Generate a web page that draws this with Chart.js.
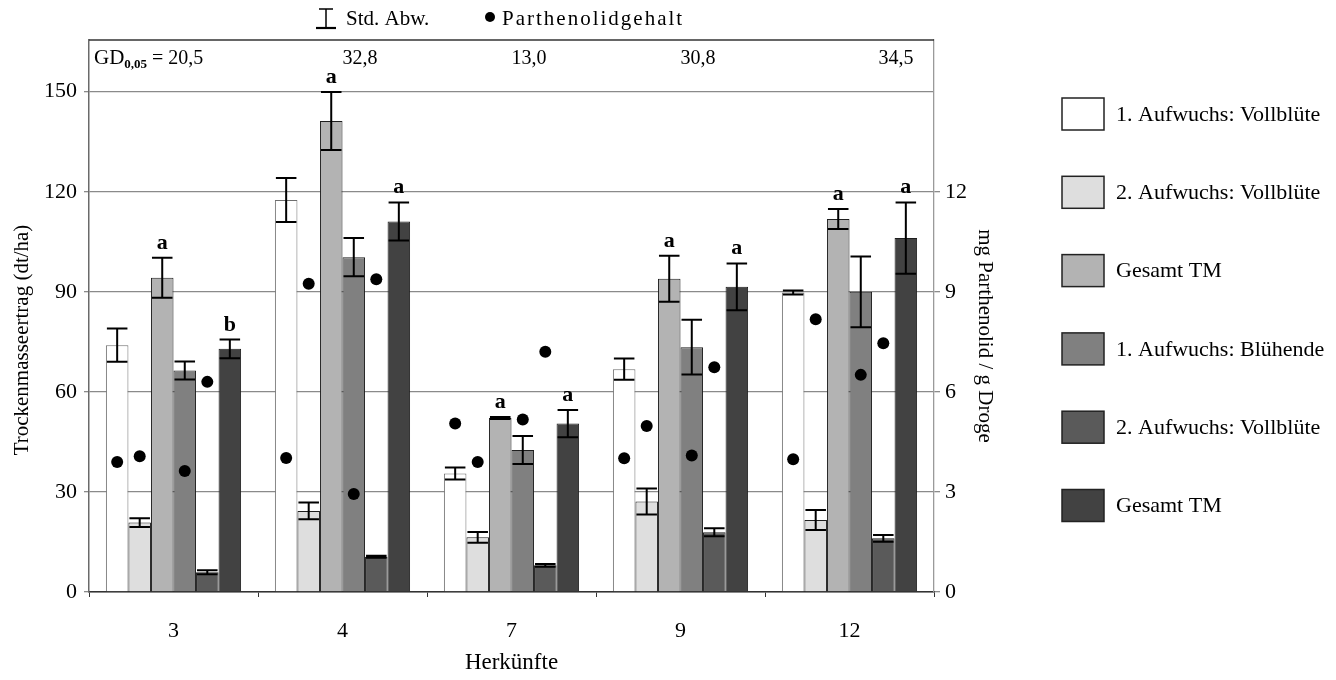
<!DOCTYPE html>
<html>
<head>
<meta charset="utf-8">
<script src="https://cdn.jsdelivr.net/npm/chart.js@4.4.1/dist/chart.umd.min.js"></script>
<style>
  html, body { margin: 0; padding: 0; background: #fff; }
  #wrap { width: 1336px; height: 680px; position: relative; }
</style>
</head>
<body>
<div id="wrap"><canvas id="c" width="1336" height="680"></canvas></div>
<script>
// Herkünfte (origins) on the x axis
const herkuenfte = ['3', '4', '7', '9', '12'];

// Legend names of the six bar series
const seriesNames = ['1. Aufwuchs: Vollblüte', '2. Aufwuchs: Vollblüte', 'Gesamt TM',
                     '1. Aufwuchs: Blühende', '2. Aufwuchs: Vollblüte', 'Gesamt TM'];

// Trockenmasseertrag (dt/ha), harvest at full bloom
const aufwuchs1Voll   = [74.0, 117.5, 35.5, 66.8, 89.8];
const aufwuchs2Voll   = [20.8, 24.3, 16.4, 27.1, 21.6];
const gesamtVoll      = [94.2, 141.2, 52.2, 93.9, 111.8];
// Trockenmasseertrag (dt/ha), first cut at begin of flowering
const aufwuchs1Blueh  = [66.4, 100.4, 42.6, 73.4, 90.0];
const aufwuchs2Folge  = [5.9, 10.6, 8.0, 17.9, 16.1];
const gesamtBlueh     = [72.9, 111.1, 50.5, 91.5, 106.1];

// Standardabweichungen
const sdAufwuchs1Voll  = [5.0, 6.6, 1.8, 3.2, 0.6];
const sdAufwuchs2Voll  = [1.3, 2.5, 1.6, 3.9, 3.0];
const sdGesamtVoll     = [6.0, 8.7, 0.3, 6.9, 3.0];
const sdAufwuchs1Blueh = [2.7, 5.7, 4.2, 8.2, 10.6];
const sdAufwuchs2Folge = [0.6, 0.3, 0.4, 1.2, 1.0];
const sdGesamtBlueh    = [2.8, 5.7, 4.1, 7.0, 10.7];

// Parthenolidgehalt (mg Parthenolid / g Droge)
const parthAufwuchs1Voll  = [3.90, 4.02, 5.05, 4.01, 3.98];
const parthAufwuchs2Voll  = [4.07, 9.24, 3.90, 4.98, 8.18];
const parthAufwuchs1Blueh = [3.63, 2.94, 5.17, 4.09, 6.51];
const parthAufwuchs2Folge = [6.30, 9.38, 7.20, 6.74, 7.46];

// Significance letters above the Gesamt TM bars
const lettersGesamtVoll  = ['a', 'a', 'a', 'a', 'a'];
const lettersGesamtBlueh = ['b', 'a', 'a', 'a', 'a'];

// Grenzdifferenzen GD 0,05 per Herkunft
const gdWerte = ['20,5', '32,8', '13,0', '30,8', '34,5'];

// Axis ticks
const yTicks  = [0, 30, 60, 90, 120, 150];
const y2Ticks = [0, 3, 6, 9, 12];
const yMax = 165.5;

const SERIF = "'Liberation Serif', 'Times New Roman', serif";
const fills   = ['#ffffff', '#dedede', '#b3b3b3', '#808080', '#5a5a5a', '#424242'];
const borders = ['#6e6e6e', '#1e1e1e', '#1e1e1e', '#1e1e1e', '#1e1e1e', '#1e1e1e'];

const barValues = [aufwuchs1Voll, aufwuchs2Voll, gesamtVoll, aufwuchs1Blueh, aufwuchs2Folge, gesamtBlueh];
const barSd = [sdAufwuchs1Voll, sdAufwuchs2Voll, sdGesamtVoll, sdAufwuchs1Blueh, sdAufwuchs2Folge, sdGesamtBlueh];
const barLetters = [null, null, lettersGesamtVoll, null, null, lettersGesamtBlueh];

const barDatasets = barValues.map((vals, k) => ({
  type: 'bar',
  label: seriesNames[k],
  data: vals,
  sd: barSd[k],
  letters: barLetters[k],
  backgroundColor: fills[k],
  borderColor: borders[k],
  borderWidth: 1,
  barPercentage: 1.0,
  categoryPercentage: 0.8,
  xAxisID: 'x',
  yAxisID: 'y',
  order: 2
}));

// Parthenolid points: each belongs to one bar series and sits on that bar
const parthSeries = [
  { bar: 0, vals: parthAufwuchs1Voll },
  { bar: 1, vals: parthAufwuchs2Voll },
  { bar: 3, vals: parthAufwuchs1Blueh },
  { bar: 4, vals: parthAufwuchs2Folge }
];
const dotDatasets = parthSeries.map(p => ({
  type: 'line',
  label: 'Parthenolidgehalt',
  data: p.vals,
  onBar: p.bar,
  showLine: false,
  backgroundColor: '#000',
  borderColor: '#000',
  borderWidth: 0,
  pointRadius: 6,
  pointHoverRadius: 6,
  xAxisID: 'x',
  yAxisID: 'y1',
  order: 1
}));

// Moves each Parthenolid point onto the centre of its bar
const pointsOnBars = {
  id: 'pointsOnBars',
  afterDatasetsUpdate(chart) {
    chart.data.datasets.forEach((ds, di) => {
      if (ds.onBar === undefined) return;
      const bars = chart.getDatasetMeta(ds.onBar).data;
      chart.getDatasetMeta(di).data.forEach((pt, i) => { pt.x = bars[i].x; });
    });
  }
};

// Error bars, significance letters, frame, GD row, legends and axis titles
const decorations = {
  id: 'decorations',
  afterDatasetsDraw(chart) {
    const ctx = chart.ctx;
    const y = chart.scales.y;
    ctx.save();
    chart.data.datasets.forEach((ds, di) => {
      if (ds.type !== 'bar') return;
      const meta = chart.getDatasetMeta(di);
      meta.data.forEach((bar, i) => {
        const v = ds.data[i], s = ds.sd[i];
        const yTop = y.getPixelForValue(v + s);
        const yBot = y.getPixelForValue(v - s);
        const half = bar.width / 2 - 1;
        ctx.strokeStyle = '#000';
        ctx.lineWidth = 2;
        ctx.beginPath();
        ctx.moveTo(bar.x, yTop); ctx.lineTo(bar.x, yBot);
        ctx.moveTo(bar.x - half, yTop); ctx.lineTo(bar.x + half, yTop);
        ctx.moveTo(bar.x - half, yBot); ctx.lineTo(bar.x + half, yBot);
        ctx.stroke();
        if (ds.letters) {
          ctx.fillStyle = '#000';
          ctx.font = 'bold 22px ' + SERIF;
          ctx.textAlign = 'center';
          ctx.textBaseline = 'alphabetic';
          ctx.fillText(ds.letters[i], bar.x, yTop - 9);
        }
      });
    });
    ctx.restore();
  },
  afterDraw(chart) {
    const ctx = chart.ctx;
    const area = chart.chartArea;
    const x = chart.scales.x;
    ctx.save();

    // top frame line
    ctx.strokeStyle = '#333';
    ctx.lineWidth = 1.5;
    ctx.beginPath();
    ctx.moveTo(area.left, area.top);
    ctx.lineTo(area.right, area.top);
    ctx.stroke();

    // GD 0,05 row
    ctx.fillStyle = '#000';
    ctx.textBaseline = 'alphabetic';
    ctx.textAlign = 'left';
    const gy = area.top + 24;
    let gx = area.left + 5;
    ctx.font = '21px ' + SERIF;
    ctx.fillText('GD', gx, gy);
    gx += ctx.measureText('GD').width;
    ctx.font = 'bold 13px ' + SERIF;
    ctx.fillText('0,05', gx, gy + 4);
    gx += ctx.measureText('0,05').width;
    ctx.font = '20px ' + SERIF;
    ctx.fillText(' = ' + gdWerte[0], gx, gy);
    for (let i = 1; i < gdWerte.length; i++) {
      const px = x.getPixelForValue(i) + (i === gdWerte.length - 1 ? 29 : 0);
      ctx.fillText(gdWerte[i], px, gy);
    }

    // top legend: Std. Abw. and Parthenolidgehalt
    ctx.strokeStyle = '#000';
    ctx.lineWidth = 1.5;
    ctx.beginPath();
    ctx.moveTo(319, 9); ctx.lineTo(333, 9);
    ctx.moveTo(326, 9); ctx.lineTo(326, 28);
    ctx.stroke();
    ctx.lineWidth = 2.2;
    ctx.beginPath();
    ctx.moveTo(316, 28); ctx.lineTo(336, 28);
    ctx.stroke();
    ctx.font = '21px ' + SERIF;
    ctx.textBaseline = 'middle';
    ctx.fillText('Std. Abw.', 346, 19);
    ctx.beginPath();
    ctx.arc(490, 17, 5, 0, Math.PI * 2);
    ctx.fill();
    ctx.save();
    ctx.letterSpacing = '2px';
    ctx.fillText('Parthenolidgehalt', 502, 19);
    ctx.restore();

    // series legend on the right
    const legX = 1062, legW = 42, legH = 32;
    ctx.font = '22px ' + SERIF;
    ctx.textBaseline = 'middle';
    seriesNames.forEach((name, k) => {
      const cy = 114 + k * 78.3;
      ctx.fillStyle = fills[k];
      ctx.fillRect(legX, cy - legH / 2, legW, legH);
      ctx.strokeStyle = '#222';
      ctx.lineWidth = 1.5;
      ctx.strokeRect(legX, cy - legH / 2, legW, legH);
      ctx.fillStyle = '#000';
      ctx.fillText(name, 1116, cy + 1);
    });

    // vertical axis titles
    ctx.font = '21px ' + SERIF;
    ctx.textAlign = 'center';
    ctx.textBaseline = 'middle';
    ctx.save();
    ctx.translate(22, 340);
    ctx.rotate(-Math.PI / 2);
    ctx.fillText('Trockenmasseertrag (dt/ha)', 0, 0);
    ctx.restore();
    ctx.save();
    ctx.translate(985, 336);
    ctx.rotate(Math.PI / 2);
    ctx.fillText('mg Parthenolid / g Droge', 0, 0);
    ctx.restore();

    ctx.restore();
  }
};

new Chart(document.getElementById('c'), {
  type: 'bar',
  data: {
    labels: herkuenfte,
    datasets: [...barDatasets, ...dotDatasets]
  },
  options: {
    responsive: false,
    animation: false,
    events: [],
    layout: { padding: { top: 40, left: 0, right: 0, bottom: 0 } },
    plugins: {
      legend: { display: false },
      tooltip: { enabled: false }
    },
    scales: {
      x: {
        type: 'category',
        position: 'bottom',
        offset: true,
        grid: { display: true, drawOnChartArea: false, offset: true, tickLength: 5, color: '#333', lineWidth: 1 },
        border: { display: true, color: '#333', width: 1.5 },
        ticks: { color: '#000', font: { family: SERIF, size: 22 }, padding: 21, maxRotation: 0 },
        title: { display: true, text: 'Herkünfte', color: '#000', font: { family: SERIF, size: 23 }, padding: { top: 0, bottom: 3 } },
        afterFit(scale) { scale.height = 88; }
      },
      y: {
        type: 'linear',
        position: 'left',
        min: 0,
        max: yMax,
        afterBuildTicks(scale) { scale.ticks = yTicks.map(v => ({ value: v })); },
        grid: { color: '#8a8a8a', lineWidth: 1.3, tickLength: 5 },
        border: { display: true, color: '#6a6a6a', width: 1.5 },
        ticks: { color: '#000', font: { family: SERIF, size: 22 }, padding: 7 },
        afterFit(scale) { scale.width = 89; }
      },
      y1: {
        type: 'linear',
        position: 'right',
        min: 0,
        max: yMax / 10,
        afterBuildTicks(scale) { scale.ticks = y2Ticks.map(v => ({ value: v })); },
        grid: { drawOnChartArea: false, color: '#8a8a8a', lineWidth: 1.3, tickLength: 6 },
        border: { display: true, color: '#9a9a9a', width: 1.3 },
        ticks: { color: '#000', font: { family: SERIF, size: 22 }, padding: 5 },
        afterFit(scale) { scale.width = 1336 - 934; }
      }
    }
  },
  plugins: [pointsOnBars, decorations]
});
</script>
</body>
</html>
